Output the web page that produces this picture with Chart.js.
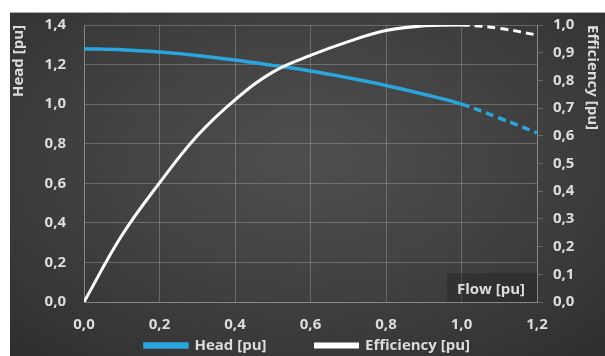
<!DOCTYPE html>
<html>
<head>
<meta charset="utf-8">
<script src="https://cdn.jsdelivr.net/npm/chart.js@4/dist/chart.umd.min.js"></script>
<style>
  html, body { margin: 0; padding: 0; background: #ffffff; }
  #wrap {
    position: absolute; left: 10px; top: 12px; width: 595px; height: 344px;
    border-top: 1px solid #b0b0b0;
    box-sizing: border-box;
    background: radial-gradient(ellipse 75% 80% at 50% 42%, #4e4e4e 0%, #424242 45%, #2e2e2e 100%);
  }
  canvas { display: block; }
</style>
</head>
<body>
<div id="wrap"><canvas id="c" width="595" height="343"></canvas></div>
<script>
// Pump characteristic in per-unit
const flow       = [0, 0.1, 0.2, 0.3, 0.4, 0.5, 0.6, 0.7, 0.8, 0.9, 1.0, 1.1, 1.2];
const head       = [1.28, 1.275, 1.263, 1.246, 1.223, 1.196, 1.168, 1.133, 1.094, 1.05, 1.0, 0.93, 0.855];
const efficiency = [0, 0.24, 0.43, 0.60, 0.73, 0.83, 0.89, 0.94, 0.98, 0.997, 1.0, 0.988, 0.964];
const seriesNames = ['Head [pu]', 'Efficiency [pu]'];
const headTicks = { min: 0, max: 1.4, step: 0.2 };
const effTicks  = { min: 0, max: 1.0, step: 0.1 };
const flowTicks = { min: 0, max: 1.2, step: 0.2 };
const ratedFlow = 1.0; // beyond this the curves are drawn dashed

const comma = v => Number(v).toFixed(1).replace('.', ',');
const pts = ys => flow.map((x, i) => ({ x, y: ys[i] }));
const dashBeyondRated = ctx => ctx.p0.parsed.x >= ratedFlow - 1e-9 ? [8, 5] : undefined;

const textColor = '#dcdcdc';
const gridColor = 'rgba(255,255,255,0.22)';
const font = { family: 'Open Sans', weight: 'bold', size: 15 };

// let the layout padding alone decide where the plot area sits
const noEdgePadding = (s) => { s.paddingTop = 0; s.paddingBottom = 0; s.paddingLeft = 0; s.paddingRight = 0; };

const flowLabel = {
  id: 'flowLabel',
  beforeDatasetsDraw(chart) {
    const { ctx, chartArea: a } = chart;
    ctx.save();
    ctx.fillStyle = 'rgba(30,30,30,0.35)';
    ctx.fillRect(a.right - 90, a.bottom - 29, 90, 29);
    ctx.fillStyle = textColor;
    ctx.font = 'bold 15px "Open Sans"';
    ctx.textAlign = 'center';
    ctx.textBaseline = 'middle';
    ctx.fillText('Flow [pu]', a.right - 46, a.bottom - 12);
    ctx.restore();
  }
};

new Chart(document.getElementById('c'), {
  type: 'line',
  data: {
    datasets: [
      {
        label: seriesNames[0], data: pts(head), yAxisID: 'y',
        borderColor: '#2aa6de', backgroundColor: '#2aa6de',
        borderWidth: 3.5, pointRadius: 0, tension: 0.4,
        segment: { borderDash: dashBeyondRated }, order: 1
      },
      {
        label: seriesNames[1], data: pts(efficiency), yAxisID: 'y1',
        borderColor: '#ffffff', backgroundColor: '#ffffff',
        borderWidth: 3, pointRadius: 0, tension: 0.4,
        segment: { borderDash: dashBeyondRated }, order: 0
      }
    ]
  },
  options: {
    responsive: false, animation: false,
    layout: { padding: { top: 12, bottom: -7 } },
    plugins: {
      tooltip: { enabled: false },
      legend: {
        position: 'bottom',
        labels: {
          color: textColor, font, boxWidth: 42, boxHeight: 3, padding: 4,
          sort: (a, b) => a.datasetIndex - b.datasetIndex,
          generateLabels: (chart) => Chart.defaults.plugins.legend.labels.generateLabels(chart)
            .map(l => l.datasetIndex === 0 ? { ...l, text: l.text + '\u2003\u2003\u2003' } : l)
        }
      }
    },
    scales: {
      x: {
        type: 'linear', min: flowTicks.min, max: flowTicks.max,
        ticks: { stepSize: flowTicks.step, color: textColor, font, padding: 14, callback: comma },
        grid: { color: gridColor, drawTicks: false },
        border: { color: gridColor },
        afterFit: s => { s.height = 32; noEdgePadding(s); }
      },
      y: {
        position: 'left', min: headTicks.min, max: headTicks.max,
        ticks: { stepSize: headTicks.step, color: textColor, font, padding: 18, callback: comma },
        grid: { color: gridColor, drawTicks: false },
        border: { color: gridColor },
        title: { display: true, text: 'Head [pu]', color: textColor, font, align: 'end', padding: 0 },
        afterFit: s => { s.width = 74; noEdgePadding(s); }
      },
      y1: {
        position: 'right', min: effTicks.min, max: effTicks.max,
        ticks: { stepSize: effTicks.step, color: textColor, font, padding: 10, callback: comma },
        grid: { drawOnChartArea: false, color: gridColor, tickLength: 6 },
        border: { color: gridColor },
        title: { display: true, text: 'Efficiency [pu]', color: textColor, font, align: 'end', padding: 4 },
        afterFit: s => { s.width = 68; noEdgePadding(s); }
      }
    }
  },
  plugins: [flowLabel]
});
</script>
</body>
</html>
